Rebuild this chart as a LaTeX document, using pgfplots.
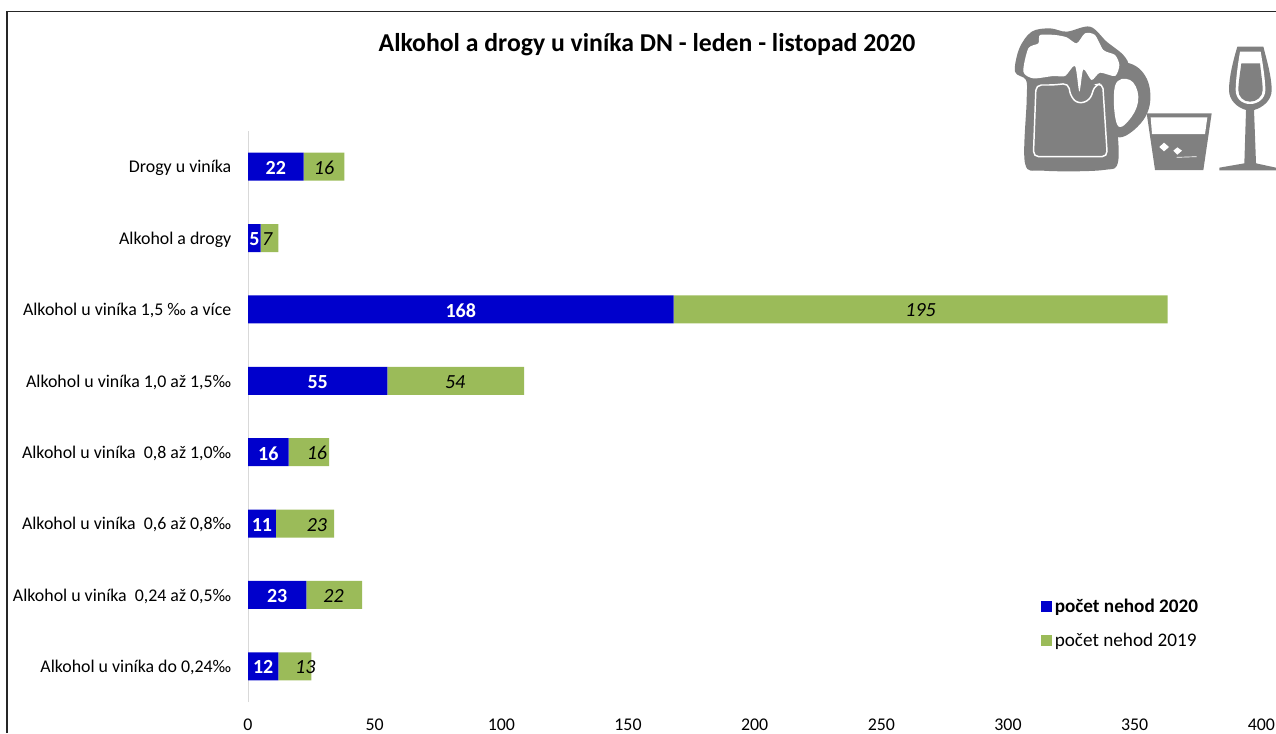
\documentclass[border=0pt]{standalone}
\usepackage{fontspec}
\setmainfont{Carlito}
\usepackage{pgfplots}
\pgfplotsset{compat=1.18}
\usepackage{pgfplotstable}
\definecolor{barblue}{RGB}{0,0,204}
\definecolor{bargreen}{RGB}{155,187,89}
\definecolor{icongray}{RGB}{128,128,128}
\definecolor{axisgray}{RGB}{217,217,217}

% y x2020 x2019
\pgfplotstableread{
y a b
0 12 13
1 23 22
2 11 23
3 16 16
4 55 54
5 168 195
6 5 7
7 22 16
}\bars
% label positions
\pgfplotstableread{
x y v
6 0 12
11.5 1 23
5.5 2 11
8 3 16
27.5 4 55
84 5 168
2.5 6 5
11 7 22
}\labelsnew
\pgfplotstableread{
x y v
22.6 0 13
33.8 1 22
27.2 2 23
27.2 3 16
81.8 4 54
265.5 5 195
7.6 6 7
30 7 16
}\labelsold

\begin{document}
\begin{tikzpicture}
\useasboundingbox (0,0) rectangle (957pt,-549.75pt);
\begin{scope}[x=0.75pt,y=-0.75pt]
\draw[black!85,line width=1.1pt] (7,733) -- (7,11.5) -- (1276,11.5);
\node[font=\fontsize{19.3}{22}\selectfont\bfseries] at (647,45) {Alkohol a drogy u viníka DN - leden - listopad 2020};

% icons
\begin{scope}[shift={(1000,0)},x=0.25pt,y=-0.25pt]
\fill[icongray] plot[smooth cycle,tension=.55] coordinates {(45,215) (58,145) (95,95) (150,85) (200,95) (270,80) (320,125) (370,165) (385,200) (350,240) (345,300) (355,480) (310,510) (130,512) (75,490) (80,300) (78,240)};
\fill[icongray] plot[smooth cycle,tension=.7] coordinates {(345,200) (410,200) (450,270) (430,360) (350,410) (335,300)};
\fill[white] plot[smooth cycle,tension=.7] coordinates {(345,258) (390,240) (415,290) (395,350) (352,375)};
\fill[white] plot[smooth cycle,tension=.45] coordinates {(70,215) (85,145) (115,130) (120,105) (165,105) (200,112) (230,130) (255,100) (285,105) (310,150) (345,165) (358,195) (345,228) (300,218) (275,240) (250,208) (238,275) (225,198) (195,228) (160,228) (100,235)};
\draw[white,line width=1.1pt,rounded corners=4pt] (108,255) -- (100,470) -- (322,470) -- (308,250) -- (285,255) -- (270,300) -- (235,312) -- (212,290) -- (205,250) -- (160,255) -- cycle;
\fill[icongray] (440,340) -- (635,340) -- (610,510) -- (465,510) -- cycle;
\fill[white] (452,352) -- (622,352) -- (615,402) -- (456,402) -- cycle;
\fill[white] (492,428) -- (507,441) -- (492,454) -- (478,441) -- cycle;
\fill[white] (532,442) -- (546,452) -- (532,464) -- (520,452) -- cycle;
\draw[white,line width=.5pt] (530,472) -- (590,470);
\fill[icongray] (712,140) -- (790,140) .. controls (800,180) and (815,230) .. (815,270) .. controls (815,300) and (790,322) .. (762,330) -- (768,490) -- (828,503) -- (828,511) -- (658,511) -- (658,503) -- (733,490) -- (738,330) .. controls (710,322) and (687,300) .. (687,270) .. controls (687,230) and (700,180) .. (712,140) -- cycle;
\fill[white] (720,155) -- (782,155) .. controls (788,190) and (796,240) .. (796,270) .. controls (796,295) and (775,312) .. (750,312) .. controls (725,312) and (707,295) .. (707,270) .. controls (707,240) and (714,190) .. (720,155) -- cycle;
\fill[icongray] (724,190) -- (780,190) .. controls (783,220) and (788,250) .. (788,270) .. controls (788,290) and (770,305) .. (750,305) .. controls (730,305) and (715,290) .. (715,270) .. controls (715,250) and (720,220) .. (724,190) -- cycle;
\end{scope}
\end{scope}

\begin{axis}[
	at={(186pt,-526.5pt)}, anchor=south west,
	scale only axis,
	width=760pt, height=428.25pt,
	xbar stacked, bar width=21pt,
	xmin=0, xmax=400,
	ymin=-0.5, ymax=7.5,
	axis lines=left,
	axis line style={-},
	x axis line style={draw=none},
	y axis line style={draw=axisgray,line width=.7pt},
	major tick length=0pt,
	xtick={0,50,100,150,200,250,300,350,400},
	ytick={0,...,7},
	yticklabels={
		Alkohol u viníka do 0{,}24‰,
		Alkohol u viníka\ \ 0{,}24 až 0{,}5‰,
		Alkohol u viníka\ \ 0{,}6 až 0{,}8‰,
		Alkohol u viníka\ \ 0{,}8 až 1{,}0‰,
		Alkohol u viníka 1{,}0 až 1{,}5‰,
		Alkohol u viníka 1{,}5 ‰ a více,
		Alkohol a drogy,
		Drogy u viníka},
	every tick label/.append style={font=\fontsize{13.4}{15}\selectfont},
	/pgf/number format/assume math mode=true,
	yticklabel style={xshift=-9pt,yshift=-1pt},
	xticklabel style={yshift=-9.5pt},
	legend style={at={(0.782,0.186)},anchor=north west,draw=none,fill=none,
		font=\fontsize{14.4}{16}\selectfont,row sep=10pt,inner sep=0pt},
	legend cell align=left,
	legend image code/.code={\fill[#1] (0.13cm,-0.15cm) rectangle (0.43cm,0.15cm);},
	]
	\addplot[draw=none,fill=barblue] table[x=a,y=y] {\bars};
	\addplot[draw=none,fill=bargreen] table[x=b,y=y] {\bars};
	\legend{\textbf{počet nehod 2020},počet nehod 2019}
\end{axis}

\begin{axis}[
	at={(186pt,-526.5pt)}, anchor=south west,
	scale only axis,
	width=760pt, height=428.25pt,
	xmin=0, xmax=400,
	ymin=-0.5, ymax=7.5,
	hide axis,
	clip=false,
	]
	\addplot[draw=none,mark=none,point meta=explicit symbolic,
		nodes near coords,
		nodes near coords style={anchor=center,yshift=-0.8pt,text=white,font=\fontsize{15}{17}\selectfont\bfseries}]
		table[x=x,y=y,meta=v] {\labelsnew};
	\addplot[draw=none,mark=none,point meta=explicit symbolic,
		nodes near coords,
		nodes near coords style={anchor=center,yshift=-0.8pt,text=black,font=\fontsize{15}{17}\selectfont\itshape}]
		table[x=x,y=y,meta=v] {\labelsold};
\end{axis}
\end{tikzpicture}
\end{document}
